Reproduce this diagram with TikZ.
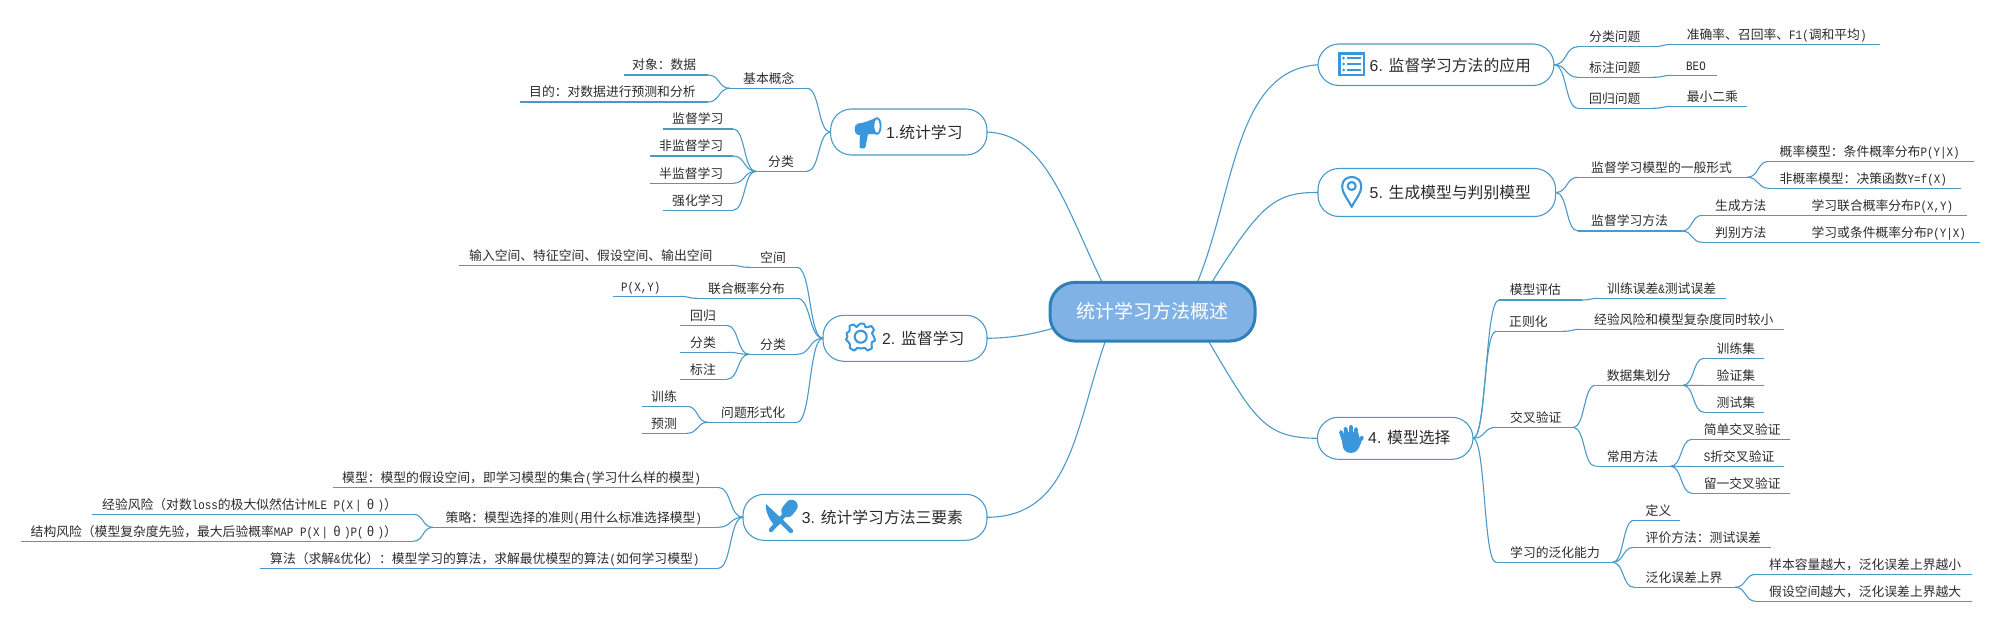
\documentclass[tikz,border=0pt]{standalone}
\usepackage{fontspec}
\setmainfont{Noto Sans CJK SC}
\newfontfamily\lat[FakeStretch=0.85]{Liberation Mono}
\newfontfamily\sanslat{Liberation Sans}
\newcommand\la[1]{{\lat\fontsize{12.8}{13}\selectfont #1}}
\newcommand\thet{\makebox[14pt]{θ}}
\newcommand\vbr{\makebox[10.5pt]{\la{|}}}
\usetikzlibrary{calc}
\definecolor{linec}{HTML}{4A9AC8}
\definecolor{iconc}{HTML}{3A97DC}
\definecolor{rootf}{HTML}{80B2E5}
\definecolor{rootd}{HTML}{2F80BA}
\definecolor{txt}{HTML}{2B2B2B}
\tikzset{
  conn/.style={draw=linec,line width=1.1pt},
  lbl/.style={anchor=west,inner sep=0pt,text=txt,font=\fontsize{12.8}{13}\selectfont,text height=10pt,text depth=1.5pt},
  topicbox/.style={draw=linec,line width=1.1pt,fill=white,rounded corners=21pt,inner sep=0pt},
  rootbox/.style={draw=rootd,line width=3pt,fill=rootf,rounded corners=25pt,inner sep=0pt,text=white,font=\fontsize{19}{20}\selectfont},
  maintxt/.style={anchor=west,inner sep=0pt,text=txt,font=\fontsize{15.8}{16}\selectfont},
  iconl/.style={draw=iconc,fill=none,line width=2.1pt,line join=round}
}
% name, x left, x right, y of the rule, x of the text, text
\newcommand\tp[6]{%
  \coordinate (#1L) at (#2,#4);
  \coordinate (#1R) at (#3,#4);
  \node[lbl] (#1) at (#5,#4-9.3) {#6};
  \draw[conn] (#1L) -- (#1R);
}
% S curve between two named points, level at both ends
\newcommand\scv[2]{\draw[conn] (#1) .. controls ($(#1)!.55!(#1 -| #2)$) and ($(#2)!.55!(#2 -| #1)$) .. (#2);}
\newcommand\mainbox[5]{% name, x1, x2, y1, y2
  \node[topicbox,minimum width=#3pt-#2pt,minimum height=#5pt-#4pt] (#1) at ({(#2+#3)/2},{(#4+#5)/2}) {};
  \coordinate (#1W) at (#2,{(#4+#5)/2});
  \coordinate (#1E) at (#3,{(#4+#5)/2});
}
\newcommand\mt[4]{\node[maintxt] (#1) at (#2,#3) {#4};}
\begin{document}
\begin{tikzpicture}[x=1pt,y=-1pt]
\useasboundingbox (0,0) rectangle (2000,622);

% ---------- root and main topics
\coordinate (c1) at (1102,282);
\coordinate (c2) at (1054,328);
\coordinate (c3) at (1105,342);
\coordinate (c4) at (1209,342);
\coordinate (c5) at (1212,282);
\coordinate (c6) at (1197.5,282);

\mainbox{a}{830.6}{987}{109}{155}
\mainbox{b}{823}{987}{315.3}{361.3}
\mainbox{d}{743}{987}{494.3}{540.3}
\mainbox{e}{1317.4}{1473}{417.3}{459.3}
\mainbox{f}{1318}{1555.6}{168.5}{216.5}
\mainbox{g}{1318}{1554}{44}{85.5}

\draw[conn] (aE) .. controls (1045,134) and (1065,205) .. (c1);
\draw[conn] (bE) .. controls (1010,338) and (1030,335) .. (c2);
\draw[conn] (dE) .. controls (1070,517) and (1075,430) .. (c3);
\draw[conn] (c4) .. controls (1255,420) and (1265,438) .. (eW);
\draw[conn] (c5) .. controls (1260,205) and (1275,192) .. (fW);
\draw[conn] (c6) .. controls (1235,190) and (1235,70) .. (gW);

\node[rootbox,minimum width=205pt,minimum height=58.7pt] (root) at (1152.5,311.7) {统计学习方法概述};

\mt{ta}{886}{132}{{\sanslat 1.}统计学习}
\mt{tb}{882}{338}{{\sanslat 2. }监督学习}
\mt{td}{801.6}{517}{{\sanslat 3. }统计学习方法三要素}
\mt{te}{1368}{438}{{\sanslat 4. }模型选择}
\mt{tf}{1369.5}{192.5}{{\sanslat 5. }生成模型与判别模型}
\mt{tg}{1369.5}{65}{{\sanslat 6. }监督学习方法的应用}

% ---------- icons
% megaphone
\fill[iconc] (860,133) -- (859.5,147) .. controls (860,149) and (865,149) .. (865.5,147) -- (868,134) -- cycle;
\fill[iconc] (877,117.5) .. controls (870,120) and (865,123) .. (858,123.5) .. controls (853.5,124) and (853.5,134) .. (858,135) .. controls (865,135.5) and (872,133) .. (877,134.5) -- cycle;
\draw[iconc,fill=white,line width=1.8pt] (877,126) ellipse (3.6pt and 7.8pt);
% gear
\draw[iconl,line width=2pt] plot[smooth cycle,tension=.45] coordinates {
 (860.7,323.5) (864.2,324) (865.3,327) (868.5,327) (871.2,326) (874,330) (872,333) (873.8,336.7)
 (875,340.5) (872,342) (871.6,345.5) (872,348) (867.5,350.5) (865,348) (860.7,348.5)
 (857,348) (854.5,350.5) (850,348) (850,344.5) (848.5,342) (846,339.5) (847.5,336.7) (846.5,333.5)
 (849.5,331) (849.5,328) (849.5,326) (853.5,324.5) (856.5,327) (858.5,325)};
\draw[iconl] (860.7,336.7) circle (6pt);
% knife and spoon
\draw[iconc,line width=4.4pt,line cap=round] (786,513) -- (771,530);
\draw[iconc,line width=12.5pt,line cap=round] (787.5,511) -- (791.5,506);
\draw[iconc,line width=4.4pt,line cap=round] (778,518) -- (791,531);
\fill[iconc] (766,504) -- (784,521) -- (776,527) .. controls (770,521) and (765,512) .. cycle;
% hand
\fill[iconc] (1342,438) .. controls (1342,450) and (1345,453) .. (1351,453) .. controls (1357,453) and (1359,448) .. (1361,443) -- (1358,432) -- (1344,432) -- cycle;
\draw[iconc,line width=3.9pt,line cap=round]
  (1344,441) -- (1341,432)
  (1347,438) -- (1345.5,428.5)
  (1351,438) -- (1351,426.5)
  (1355,438) -- (1356,429)
  (1357,444) -- (1362,437.5);
% pin
\draw[iconl] (1351.7,207) .. controls (1348,199) and (1342.2,194) .. (1342.2,186) .. controls (1342.2,174) and (1361.2,174) .. (1361.2,186) .. controls (1361.2,194) and (1355.4,199) .. (1351.7,207) -- cycle;
\draw[iconl] (1351.7,186) circle (4pt);
% list
\draw[iconc,line width=2.4pt,fill=white] (1339.5,53.5) rectangle (1364,75);
\draw[iconc,line width=1.7pt]
  (1347,58.2) -- (1361,58.2)
  (1347,64) -- (1361,64)
  (1347,70) -- (1361,70);
\fill[iconc] (1343.5,58.2) circle (1.5pt) (1343.5,64) circle (1.5pt) (1343.5,70) circle (1.5pt);

% ---------- topic 1
\tp{aa}{730}{807}{88.3}{743}{基本概念}
\tp{aaa}{624}{708}{75}{632}{对象：数据}
\tp{aab}{520}{708}{102}{529}{目的：对数据进行预测和分析}
\tp{ab}{756}{807}{171.3}{768}{分类}
\tp{aba}{662.5}{733}{129}{672}{监督学习}
\tp{abb}{650}{733}{156}{659}{非监督学习}
\tp{abc}{650}{733}{183.3}{659}{半监督学习}
\tp{abd}{662.5}{733}{210.3}{672}{强化学习}
\scv{aW}{aaR}\scv{aW}{abR}
\scv{aaL}{aaaR}\scv{aaL}{aabR}
\scv{abL}{abaR}\scv{abL}{abbR}\scv{abL}{abcR}\scv{abL}{abdR}

% ---------- topic 2
\tp{ba}{750}{797}{267.3}{760}{空间}
\tp{baa}{459}{730}{265.3}{469}{输入空间、特征空间、假设空间、输出空间}
\tp{bb}{697}{797}{298.3}{708}{联合概率分布}
\tp{bba}{612.5}{680}{296.3}{621}{\la{P(X,Y)}}
\tp{bc}{749}{797}{354.3}{760}{分类}
\tp{bca}{680}{727}{325.5}{690}{回归}
\tp{bcb}{680}{727}{352.3}{690}{分类}
\tp{bcc}{680}{727}{379.3}{690}{标注}
\tp{bd}{708}{797}{422.3}{721}{问题形式化}
\tp{bda}{641.5}{687}{406.3}{651}{训练}
\tp{bdb}{641.5}{687}{433.3}{651}{预测}
\scv{bW}{baR}\scv{bW}{bbR}\scv{bW}{bcR}\scv{bW}{bdR}
\scv{baL}{baaR}\scv{bbL}{bbaR}
\scv{bcL}{bcaR}\scv{bcL}{bcbR}\scv{bcL}{bccR}
\scv{bdL}{bdaR}\scv{bdL}{bdbR}

% ---------- topic 3
\tp{da}{332.6}{718}{487.3}{342}{模型：模型的假设空间，即学习模型的集合\la{(}学习什么样的模型\la{)}}
\tp{db}{433}{718}{527.3}{445.5}{策略：模型选择的准则\la{(}用什么标准选择模型\la{)}}
\tp{dba}{92.4}{413}{514.3}{102}{经验风险（对数\la{loss}的极大似然估计\la{MLE P(X}\vbr\thet\la{)}）}
\tp{dbb}{21.4}{413}{541.3}{30.5}{结构风险（模型复杂度先验，最大后验概率\la{MAP P(X}\vbr\thet\la{)P(}\thet\la{)}）}
\tp{dc}{260}{718}{568.3}{270}{算法（求解\la{\&}优化）：模型学习的算法，求解最优模型的算法\la{(}如何学习模型\la{)}}
\scv{dW}{daR}\scv{dW}{dbR}\scv{dW}{dcR}
\scv{dbL}{dbaR}\scv{dbL}{dbbR}

% ---------- topic 4
\tp{ea}{1499}{1582}{300}{1509.6}{模型评估}
\tp{eaa}{1599}{1726}{298.3}{1607}{训练误差\la{\&}测试误差}
\tp{eb}{1496}{1563}{331.3}{1509}{正则化}
\tp{eba}{1581}{1784}{329.3}{1594}{经验风险和模型复杂度同时较小}
\tp{ec}{1496}{1573}{427.3}{1510}{交叉验证}
\tp{eca}{1595.5}{1683}{385.3}{1606.7}{数据集划分}
\tp{ecaa}{1704}{1764}{358.3}{1716.5}{训练集}
\tp{ecab}{1704}{1764}{385.3}{1716.5}{验证集}
\tp{ecac}{1704}{1764}{412.3}{1716.5}{测试集}
\tp{ecb}{1595.5}{1670.5}{466.3}{1606.7}{常用方法}
\tp{ecba}{1692}{1790}{439.3}{1703.6}{简单交叉验证}
\tp{ecbb}{1692}{1784}{466.3}{1703.6}{\la{S}折交叉验证}
\tp{ecbc}{1692}{1790}{493.3}{1703.6}{留一交叉验证}
\tp{ed}{1496}{1612.5}{562.3}{1510}{学习的泛化能力}
\tp{eda}{1634}{1680}{520.3}{1645.5}{定义}
\tp{edb}{1634}{1771}{547.3}{1645.5}{评价方法：测试误差}
\tp{edc}{1634}{1735}{587.3}{1645.5}{泛化误差上界}
\tp{edca}{1756}{1972}{574.3}{1769}{样本容量越大，泛化误差上界越小}
\tp{edcb}{1756}{1972}{601.3}{1769}{假设空间越大，泛化误差上界越大}
\scv{eE}{eaL}\scv{eE}{ebL}\scv{eE}{ecL}\scv{eE}{edL}
\scv{eaR}{eaaL}\scv{ebR}{ebaL}
\scv{ecR}{ecaL}\scv{ecR}{ecbL}
\scv{ecaR}{ecaaL}\scv{ecaR}{ecabL}\scv{ecaR}{ecacL}
\scv{ecbR}{ecbaL}\scv{ecbR}{ecbbL}\scv{ecbR}{ecbcL}
\scv{edR}{edaL}\scv{edR}{edbL}\scv{edR}{edcL}
\scv{edcR}{edcaL}\scv{edcR}{edcbL}

% ---------- topic 5
\tp{fa}{1578}{1747}{177.3}{1591}{监督学习模型的一般形式}
\tp{faa}{1769}{1973.5}{161.3}{1779.5}{概率模型：条件概率分布\la{P(Y|X)}}
\tp{fab}{1769}{1960.7}{188.3}{1779.5}{非概率模型：决策函数\la{Y=f(X)}}
\tp{fb}{1578}{1681.7}{231}{1591}{监督学习方法}
\tp{fba}{1702.4}{1966.5}{215.3}{1715}{生成方法}
\node[lbl] (fbat) at (1811.4,206) {学习联合概率分布\la{P(X,Y)}};
\tp{fbb}{1702.4}{1980}{242.3}{1715}{判别方法}
\node[lbl] (fbbt) at (1811.4,233) {学习或条件概率分布\la{P(Y|X)}};
\scv{fE}{faL}\scv{fE}{fbL}
\scv{faR}{faaL}\scv{faR}{fabL}
\scv{fbR}{fbaL}\scv{fbR}{fbbL}

% ---------- topic 6
\tp{ga}{1578}{1652.6}{46.7}{1589}{分类问题}
\tp{gaa}{1673}{1880}{44.3}{1686.6}{准确率、召回率、\la{F1(}调和平均\la{)}}
\tp{gb}{1578}{1652.6}{77.3}{1589}{标注问题}
\tp{gba}{1673}{1716.5}{75.3}{1686}{\la{BEO}}
\tp{gc}{1578}{1652.6}{108.3}{1589}{回归问题}
\tp{gca}{1673}{1747}{106.3}{1686.6}{最小二乘}
\scv{gE}{gaL}\scv{gE}{gbL}\scv{gE}{gcL}
\scv{gaR}{gaaL}\scv{gbR}{gbaL}\scv{gcR}{gcaL}
\end{tikzpicture}
\end{document}
